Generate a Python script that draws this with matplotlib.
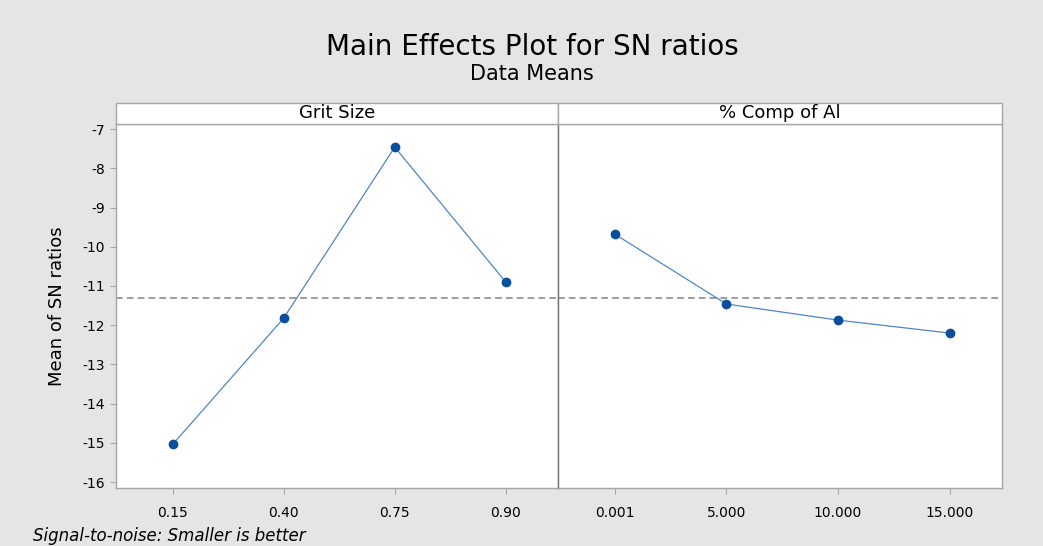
import matplotlib
matplotlib.use('Agg')
import matplotlib.pyplot as plt
from matplotlib.patches import Rectangle

# data
grit_labels = ['0.15', '0.40', '0.75', '0.90']
grit_sn = [-15.04, -11.82, -7.46, -10.90]
comp_labels = ['0.001', '5.000', '10.000', '15.000']
comp_sn = [-9.68, -11.46, -11.87, -12.20]
yticks = list(range(-16, -6))

mean_sn = sum(grit_sn + comp_sn) / 8.0

BG = '#e5e5e5'
FRAME = '#a6a6a6'
LINE = '#4f86c6'
MARK = '#0b4f9c'
FONT = 'DejaVu Sans'

fig = plt.figure(figsize=(10.43, 5.46), dpi=100)
fig.patch.set_facecolor(BG)

W, H = 1043.0, 546.0
left, mid, right = 116 / W, 558 / W, 1002 / W
bot, top, strip_top = 1 - 488 / H, 1 - 124 / H, 1 - 103 / H

panels = [(grit_labels, grit_sn, 'Grit Size', left, mid),
          (comp_labels, comp_sn, '% Comp of Al', mid, right)]

for i, (labels, vals, name, x0, x1) in enumerate(panels):
    ax = fig.add_axes([x0, bot, x1 - x0, top - bot])
    xs = list(range(1, len(vals) + 1))
    ax.plot(xs, vals, color=LINE, lw=0.9, zorder=3)
    ax.plot(xs, vals, 'o', color=MARK, ms=6, zorder=4)
    ax.axhline(mean_sn, color='#8c8c8c', lw=1.2, ls=(0, (4, 2.5)), zorder=2)
    ax.set_xlim(0.49, 4.47)
    ax.set_ylim(-16.15, -6.87)
    ax.set_xticks(xs)
    ax.set_xticklabels(labels, family=FONT, fontsize=10)
    ax.set_yticks(yticks)
    for s in ax.spines.values():
        s.set_color(FRAME)
        s.set_linewidth(1.0)
    ax.tick_params(axis='x', length=4, color=FRAME, pad=9)
    if i == 0:
        ax.set_yticklabels([str(t) for t in yticks], family=FONT, fontsize=10)
        ax.tick_params(axis='y', length=4, color=FRAME, pad=4)
        ax.set_ylabel('Mean of SN ratios', family=FONT, fontsize=13, labelpad=12)
    else:
        ax.tick_params(axis='y', left=False, labelleft=False)
        ax.spines['left'].set_color('#707070')

    # strip header
    fig.patches.append(Rectangle((x0, top), x1 - x0, strip_top - top,
                                 transform=fig.transFigure, facecolor='white',
                                 edgecolor=FRAME, lw=1.0, zorder=5))
    fig.text((x0 + x1) / 2, (top + strip_top) / 2, name, ha='center', va='center',
             fontsize=13, family=FONT, zorder=6)

fig.text(0.51, 1 - 47 / H, 'Main Effects Plot for SN ratios', ha='center', va='center',
         fontsize=20, family=FONT)
fig.text(0.51, 1 - 74 / H, 'Data Means', ha='center', va='center',
         fontsize=15, family=FONT)
fig.text(33 / W, 1 - 536 / H, 'Signal-to-noise: Smaller is better', ha='left', va='center',
         fontsize=12, style='italic', family=FONT)

fig.savefig('out.png', dpi=100, facecolor=BG)
